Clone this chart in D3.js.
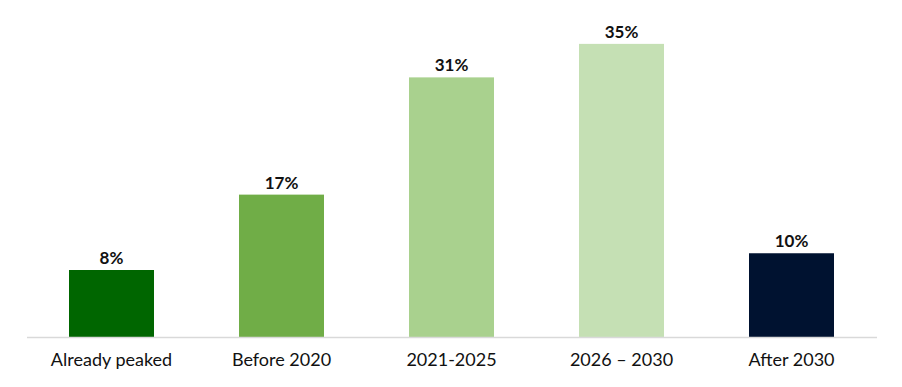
<!DOCTYPE html>
<html>
<head>
<meta charset="utf-8">
<script src="https://cdn.jsdelivr.net/npm/d3@7"></script>
<style>
  html, body { margin: 0; padding: 0; background: #fff; }
  svg { display: block; }
  text { font-family: Lato, "Open Sans", sans-serif; fill: #111; }
</style>
</head>
<body>
<svg id="chart"></svg>
<script>
const categories = ['Already peaked', 'Before 2020', '2021-2025', '2026 \u2013 2030', 'After 2030'];
const values = [8, 17, 31, 35, 10];
const colors = ['#006600', '#70ad47', '#a9d18e', '#c5e0b4', '#001230'];

const width = 902;
const height = 387;
const margin = { top: 2, right: 25.5, bottom: 50, left: 26.5 };
const innerHeight = height - margin.top - margin.bottom;

const svg = d3.select('#chart')
  .attr('width', width)
  .attr('height', height)
  .attr('viewBox', `0 0 ${width} ${height}`);

const x = d3.scaleBand()
  .domain(categories)
  .range([margin.left, width - margin.right])
  .paddingInner(0.5)
  .paddingOuter(0.25);

const y = d3.scaleLinear()
  .domain([0, 40])
  .range([margin.top + innerHeight, margin.top]);

svg.selectAll('rect.bar')
  .data(values)
  .enter().append('rect')
  .attr('class', 'bar')
  .attr('x', (d, i) => x(categories[i]))
  .attr('y', (d) => y(d))
  .attr('width', x.bandwidth())
  .attr('height', (d) => y(0) - y(d))
  .attr('fill', (d, i) => colors[i]);

// value labels
svg.selectAll('text.value')
  .data(values)
  .enter().append('text')
  .attr('class', 'value')
  .attr('x', (d, i) => x(categories[i]) + x.bandwidth() / 2)
  .attr('y', (d) => y(d) - 6)
  .attr('text-anchor', 'middle')
  .attr('font-size', 17)
  .attr('font-weight', 'bold')
  .text((d) => d + '%');

const axisX = d3.axisBottom(x).tickSize(0).tickPadding(16);

const gx = svg.append('g')
  .attr('transform', `translate(0, ${y(0)})`)
  .call(axisX)
  .attr('font-size', 18)
  .attr('font-family', 'Lato, sans-serif');

gx.select('.domain')
  .attr('stroke', '#d9d9d9')
  .attr('stroke-width', 1.5);

gx.selectAll('text')
  .attr('fill', '#111');
</script>
</body>
</html>
